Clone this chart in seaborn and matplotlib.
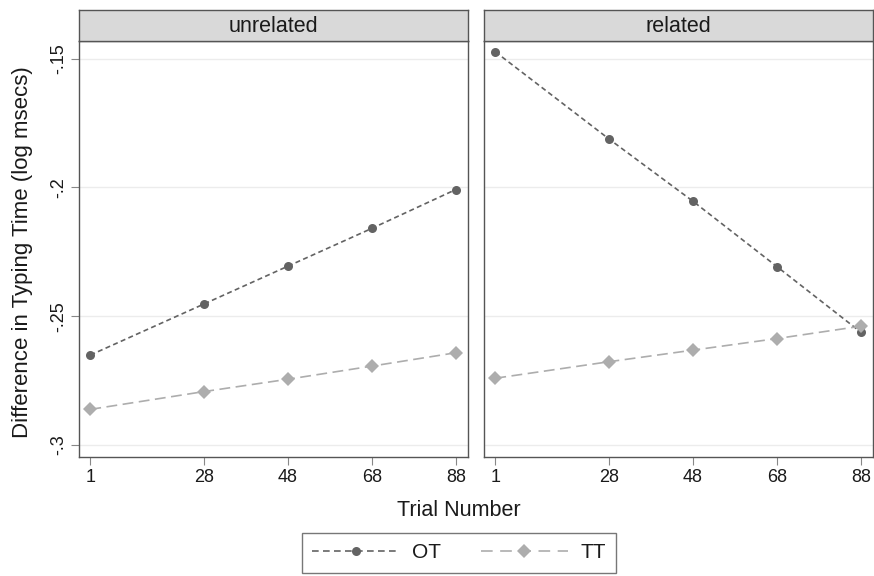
import pandas as pd
import matplotlib
matplotlib.use("Agg")
from matplotlib import pyplot as plt
from matplotlib.lines import Line2D
import seaborn as sns

# values
trials = [1, 28, 48, 68, 88]
panels = ["unrelated", "related"]
ot_unrelated = [-0.2651, -0.2453, -0.2306, -0.2159, -0.2008]
tt_unrelated = [-0.2862, -0.2793, -0.2745, -0.2694, -0.2642]
ot_related = [-0.1473, -0.1811, -0.2053, -0.2307, -0.2562]
tt_related = [-0.2741, -0.2677, -0.2632, -0.2587, -0.2539]
y_ticks = [-0.3, -0.25, -0.2, -0.15]
y_tick_labels = ["-.3", "-.25", "-.2", "-.15"]

rows = []
for panel, ot, tt in [("unrelated", ot_unrelated, tt_unrelated),
                      ("related", ot_related, tt_related)]:
    for t, o, s in zip(trials, ot, tt):
        rows.append({"panel": panel, "trial": t, "diff": o, "cond": "OT"})
        rows.append({"panel": panel, "trial": t, "diff": s, "cond": "TT"})
df = pd.DataFrame(rows)

sns.set_theme(style="white")
plt.rcParams["font.family"] = ["Liberation Sans", "DejaVu Sans"]

palette = {"OT": "#636363", "TT": "#adadad"}
dashes = {"OT": (3.0, 2.0), "TT": (6.5, 3.3)}
legend_dashes = {"OT": (4.0, 2.6), "TT": (7.0, 4.5)}
markers = {"OT": "o", "TT": "D"}
msizes = {"OT": 6.5, "TT": 7.5}
frame_col = "#555555"
text_col = "#1a1a1a"

fig = plt.figure(figsize=(8.74, 5.76), dpi=100)
W, H = 874, 576
lefts = [79, 484]
width = 389
top, bottom = 41, 457
strip_top = 10

for i, panel in enumerate(panels):
    ax = fig.add_axes([lefts[i] / W, 1 - bottom / H, width / W, (bottom - top) / H])
    sub = df[df["panel"] == panel]
    for cond in ["OT", "TT"]:
        part = sub[sub["cond"] == cond]
        sns.lineplot(data=part, x="trial", y="diff", color=palette[cond],
                     dashes=False, marker=markers[cond], markersize=msizes[cond],
                     markeredgewidth=0, linewidth=1.2, ax=ax)
        ax.lines[-1].set_dashes(dashes[cond])
    ax.set_xlim(-1.7, 90.9)
    ax.set_ylim(-0.3047, -0.1431)
    ax.set_xticks(trials)
    ax.set_xticklabels([str(t) for t in trials], fontsize=13, color=text_col)
    ax.set_yticks(y_ticks)
    for y in y_ticks:
        ax.axhline(y, color="#ececec", linewidth=1.0, zorder=0)
    ax.tick_params(axis="x", direction="out", length=5.5, width=0.8,
                   color="#888888", pad=3, bottom=True)
    if i == 0:
        ax.set_yticklabels(y_tick_labels, fontsize=13, rotation=90, va="center",
                           color=text_col)
        ax.tick_params(axis="y", direction="out", length=5.5, width=0.8,
                       color="#888888", pad=3, left=True)
    else:
        ax.set_yticklabels([])
        ax.tick_params(axis="y", left=False)
    ax.set_ylabel("")
    ax.set_xlabel("")
    for sp in ax.spines.values():
        sp.set_color(frame_col)
        sp.set_linewidth(1.0)

    # facet strip
    sax = fig.add_axes([lefts[i] / W, 1 - top / H, width / W, (top - strip_top) / H])
    sax.set_facecolor("#d9d9d9")
    sax.set_xticks([])
    sax.set_yticks([])
    for sp in sax.spines.values():
        sp.set_color(frame_col)
        sp.set_linewidth(1.0)
    sax.text(0.5, 0.47, panel, ha="center", va="center", fontsize=15.5,
             transform=sax.transAxes, color=text_col)

fig.text(23 / W, 1 - 252 / H, "Difference in Typing Time (log msecs)",
         rotation=90, ha="center", va="center", fontsize=16, color=text_col)
fig.text(459 / W, 1 - 511 / H, "Trial Number", ha="center", va="center",
         fontsize=15.5, color=text_col)

handles = [Line2D([], [], color=palette[c], linestyle=(0, legend_dashes[c]),
                  linewidth=1.2, marker=markers[c], markersize=msizes[c],
                  markeredgewidth=0)
           for c in ["OT", "TT"]]
leg = fig.legend(handles, ["OT", "TT"], loc="center", ncol=2,
                 bbox_to_anchor=(459 / W, 1 - 553 / H), fontsize=15,
                 frameon=True, fancybox=False, handlelength=4.2,
                 columnspacing=1.9, borderpad=0.5, handletextpad=0.6,
                 borderaxespad=0)
leg.get_frame().set_edgecolor(frame_col)
leg.get_frame().set_linewidth(1.0)
for t in leg.get_texts():
    t.set_color(text_col)

plt.savefig("out.png", dpi=100)
plt.close()
